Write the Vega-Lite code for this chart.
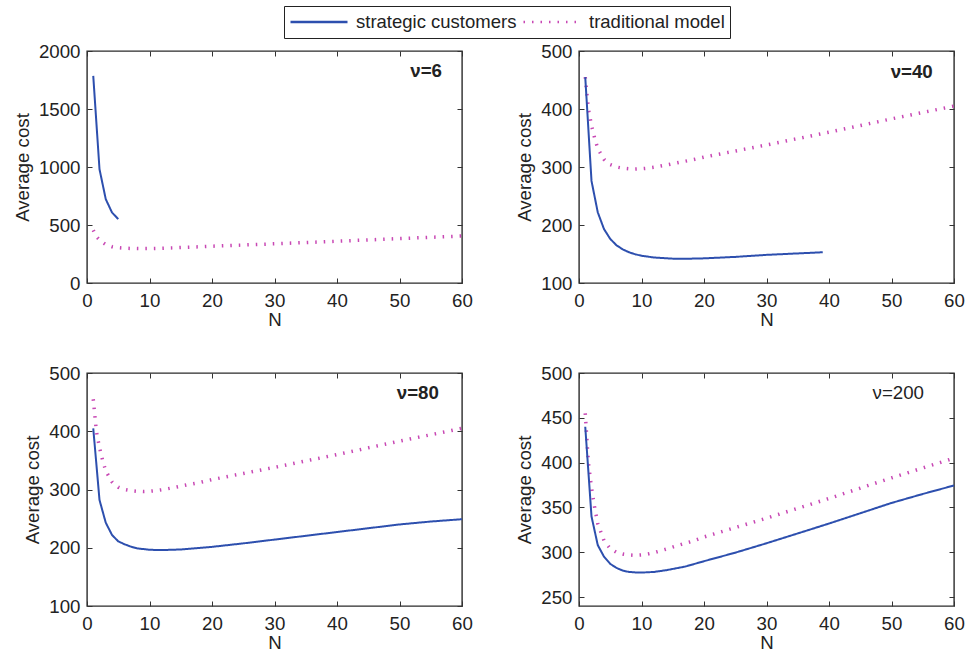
{
  "$schema": "https://vega.github.io/schema/vega-lite/v6.json",
  "padding": {"left": 12, "top": 5, "right": 5, "bottom": 0},
  "autosize": {"type": "pad"},
  "background": "white",
  "bounds": "flush",
  "config": {
    "font": "Liberation Sans",
    "view": {"stroke": "#2b2b2b", "strokeWidth": 1.4},
    "axis": {
      "grid": false,
      "domain": false,
      "labelFlush": false,
      "labelOverlap": false,
      "tickSize": -5,
      "tickColor": "#333333",
      "tickWidth": 1,
      "labelFont": "Liberation Sans",
      "labelFontSize": 18.7,
      "labelColor": "#222222",
      "titleFont": "Liberation Sans",
      "titleFontSize": 18.7,
      "titleFontWeight": "normal",
      "titleColor": "#222222",
      "titlePadding": 6
    },
    "axisX": {"labelPadding": 13, "titlePadding": 1},
    "axisY": {"labelPadding": 12},
    "legend": {"labelFont": "Liberation Sans", "labelFontSize": 18.5, "labelColor": "#222222", "labelLimit": 400}
  },
  "datasets": {
    "trad": [
      {"N": 1, "cost": 455, "series": "traditional model"},
      {"N": 1.5, "cost": 400, "series": "traditional model"},
      {"N": 2, "cost": 372, "series": "traditional model"},
      {"N": 2.5, "cost": 350, "series": "traditional model"},
      {"N": 3, "cost": 332, "series": "traditional model"},
      {"N": 4, "cost": 313, "series": "traditional model"},
      {"N": 5, "cost": 304, "series": "traditional model"},
      {"N": 6, "cost": 300, "series": "traditional model"},
      {"N": 7, "cost": 298, "series": "traditional model"},
      {"N": 8, "cost": 297, "series": "traditional model"},
      {"N": 9, "cost": 296.5, "series": "traditional model"},
      {"N": 10, "cost": 297, "series": "traditional model"},
      {"N": 11, "cost": 298, "series": "traditional model"},
      {"N": 12, "cost": 299.5, "series": "traditional model"},
      {"N": 14, "cost": 303.5, "series": "traditional model"},
      {"N": 16, "cost": 308, "series": "traditional model"},
      {"N": 18, "cost": 312, "series": "traditional model"},
      {"N": 20, "cost": 317, "series": "traditional model"},
      {"N": 25, "cost": 327.5, "series": "traditional model"},
      {"N": 30, "cost": 338, "series": "traditional model"},
      {"N": 35, "cost": 349, "series": "traditional model"},
      {"N": 40, "cost": 360, "series": "traditional model"},
      {"N": 45, "cost": 371.5, "series": "traditional model"},
      {"N": 50, "cost": 383, "series": "traditional model"},
      {"N": 55, "cost": 394, "series": "traditional model"},
      {"N": 60, "cost": 405, "series": "traditional model"}
    ],
    "strat": [
      {"panel": "v6", "N": 1, "cost": 1785, "series": "strategic customers"},
      {"panel": "v6", "N": 2, "cost": 981, "series": "strategic customers"},
      {"panel": "v6", "N": 3, "cost": 723, "series": "strategic customers"},
      {"panel": "v6", "N": 4, "cost": 608, "series": "strategic customers"},
      {"panel": "v6", "N": 5, "cost": 551, "series": "strategic customers"},
      {"panel": "v40", "N": 1, "cost": 455, "series": "strategic customers"},
      {"panel": "v40", "N": 2, "cost": 276, "series": "strategic customers"},
      {"panel": "v40", "N": 3, "cost": 222, "series": "strategic customers"},
      {"panel": "v40", "N": 4, "cost": 193, "series": "strategic customers"},
      {"panel": "v40", "N": 5, "cost": 176, "series": "strategic customers"},
      {"panel": "v40", "N": 6, "cost": 165, "series": "strategic customers"},
      {"panel": "v40", "N": 7, "cost": 158, "series": "strategic customers"},
      {"panel": "v40", "N": 8, "cost": 153, "series": "strategic customers"},
      {"panel": "v40", "N": 9, "cost": 149.5, "series": "strategic customers"},
      {"panel": "v40", "N": 10, "cost": 147, "series": "strategic customers"},
      {"panel": "v40", "N": 12, "cost": 144, "series": "strategic customers"},
      {"panel": "v40", "N": 15, "cost": 142, "series": "strategic customers"},
      {"panel": "v40", "N": 18, "cost": 142, "series": "strategic customers"},
      {"panel": "v40", "N": 20, "cost": 142.5, "series": "strategic customers"},
      {"panel": "v40", "N": 25, "cost": 145, "series": "strategic customers"},
      {"panel": "v40", "N": 30, "cost": 148.5, "series": "strategic customers"},
      {"panel": "v40", "N": 35, "cost": 151, "series": "strategic customers"},
      {"panel": "v40", "N": 39, "cost": 153, "series": "strategic customers"},
      {"panel": "v80", "N": 1, "cost": 405, "series": "strategic customers"},
      {"panel": "v80", "N": 2, "cost": 282, "series": "strategic customers"},
      {"panel": "v80", "N": 3, "cost": 243, "series": "strategic customers"},
      {"panel": "v80", "N": 4, "cost": 222, "series": "strategic customers"},
      {"panel": "v80", "N": 5, "cost": 211, "series": "strategic customers"},
      {"panel": "v80", "N": 6, "cost": 206, "series": "strategic customers"},
      {"panel": "v80", "N": 7, "cost": 202, "series": "strategic customers"},
      {"panel": "v80", "N": 8, "cost": 199, "series": "strategic customers"},
      {"panel": "v80", "N": 10, "cost": 196.5, "series": "strategic customers"},
      {"panel": "v80", "N": 12, "cost": 196, "series": "strategic customers"},
      {"panel": "v80", "N": 15, "cost": 197, "series": "strategic customers"},
      {"panel": "v80", "N": 20, "cost": 201.5, "series": "strategic customers"},
      {"panel": "v80", "N": 25, "cost": 207.5, "series": "strategic customers"},
      {"panel": "v80", "N": 30, "cost": 214, "series": "strategic customers"},
      {"panel": "v80", "N": 35, "cost": 220.5, "series": "strategic customers"},
      {"panel": "v80", "N": 40, "cost": 227, "series": "strategic customers"},
      {"panel": "v80", "N": 45, "cost": 233.5, "series": "strategic customers"},
      {"panel": "v80", "N": 50, "cost": 240, "series": "strategic customers"},
      {"panel": "v80", "N": 55, "cost": 245, "series": "strategic customers"},
      {"panel": "v80", "N": 60, "cost": 249, "series": "strategic customers"},
      {"panel": "v200", "N": 1, "cost": 440, "series": "strategic customers"},
      {"panel": "v200", "N": 2, "cost": 340, "series": "strategic customers"},
      {"panel": "v200", "N": 3, "cost": 308, "series": "strategic customers"},
      {"panel": "v200", "N": 4, "cost": 295, "series": "strategic customers"},
      {"panel": "v200", "N": 5, "cost": 287, "series": "strategic customers"},
      {"panel": "v200", "N": 6, "cost": 282.5, "series": "strategic customers"},
      {"panel": "v200", "N": 7, "cost": 279.5, "series": "strategic customers"},
      {"panel": "v200", "N": 8, "cost": 278, "series": "strategic customers"},
      {"panel": "v200", "N": 9, "cost": 277.5, "series": "strategic customers"},
      {"panel": "v200", "N": 10, "cost": 277.3, "series": "strategic customers"},
      {"panel": "v200", "N": 12, "cost": 278, "series": "strategic customers"},
      {"panel": "v200", "N": 14, "cost": 280, "series": "strategic customers"},
      {"panel": "v200", "N": 17, "cost": 284, "series": "strategic customers"},
      {"panel": "v200", "N": 20, "cost": 290, "series": "strategic customers"},
      {"panel": "v200", "N": 25, "cost": 299.5, "series": "strategic customers"},
      {"panel": "v200", "N": 30, "cost": 310, "series": "strategic customers"},
      {"panel": "v200", "N": 35, "cost": 321, "series": "strategic customers"},
      {"panel": "v200", "N": 40, "cost": 332, "series": "strategic customers"},
      {"panel": "v200", "N": 45, "cost": 343.5, "series": "strategic customers"},
      {"panel": "v200", "N": 50, "cost": 355, "series": "strategic customers"},
      {"panel": "v200", "N": 55, "cost": 365, "series": "strategic customers"},
      {"panel": "v200", "N": 60, "cost": 374.5, "series": "strategic customers"}
    ],
    "labels": [
      {"panel": "v6", "N": 56.8, "cost": 1828, "label": "ν=6"},
      {"panel": "v40", "N": 56.6, "cost": 464, "label": "ν=40"},
      {"panel": "v80", "N": 56.3, "cost": 466, "label": "ν=80"},
      {"panel": "v200", "N": 55.2, "cost": 477.5, "label": "ν=200"}
    ]
  },
  "columns": 2,
  "spacing": {"row": 90, "column": 117},
  "concat": [
    {
      "width": 375, "height": 232,
      "resolve": {"axis": {"x": "independent", "y": "independent"}},
      "layer": [
        {
          "data": {"name": "trad"},
          "mark": {"type": "line", "strokeWidth": 3.5, "strokeCap": "butt"},
          "encoding": {
            "x": {"field": "N", "type": "quantitative", "scale": {"domain": [0, 60]}, "axis": {"orient": "bottom", "values": [0,10,20,30,40,50,60], "title": "N"}},
            "y": {"field": "cost", "type": "quantitative", "scale": {"domain": [0, 2000]}, "axis": {"orient": "left", "values": [0,500,1000,1500,2000], "format": "d", "title": "Average cost"}},
            "color": {"field": "series", "type": "nominal", "scale": {"domain": ["strategic customers", "traditional model"], "range": ["#2d4fae", "#c848b4"]}, "legend": {"orient": "none", "legendX": 197, "legendY": -45, "direction": "horizontal", "title": null, "strokeColor": "#222222", "fillColor": "white", "padding": 5, "symbolType": "stroke", "symbolSize": 3249, "symbolStrokeWidth": 2.5, "labelOffset": 7, "columnPadding": 5, "clipHeight": 22, "labelLimit": 400}},
            "strokeDash": {"field": "series", "type": "nominal", "scale": {"domain": ["strategic customers", "traditional model"], "range": [[1, 0], [1.5, 7]]}, "legend": {"orient": "none", "legendX": 197, "legendY": -45, "direction": "horizontal", "title": null}}
          }
        },
        {
          "data": {"name": "strat"},
          "transform": [{"filter": "datum.panel === 'v6'"}],
          "mark": {"type": "line", "strokeWidth": 2},
          "encoding": {
            "x": {"field": "N", "type": "quantitative", "axis": {"orient": "top", "values": [0,10,20,30,40,50,60], "labels": false, "title": null}},
            "y": {"field": "cost", "type": "quantitative", "axis": {"orient": "right", "values": [0,500,1000,1500,2000], "labels": false, "title": null}},
            "color": {"field": "series", "type": "nominal"},
            "strokeDash": {"field": "series", "type": "nominal"}
          }
        },
        {
          "data": {"name": "labels"},
          "transform": [{"filter": "datum.panel === 'v6'"}],
          "mark": {"type": "text", "align": "right", "baseline": "middle", "fontSize": 18.7, "fontWeight": "bold", "color": "#222222"},
          "encoding": {
            "x": {"field": "N", "type": "quantitative", "axis": null},
            "y": {"field": "cost", "type": "quantitative", "axis": null},
            "text": {"field": "label"}
          }
        }
      ]
    },
    {
      "width": 375, "height": 232,
      "resolve": {"axis": {"x": "independent", "y": "independent"}},
      "layer": [
        {
          "data": {"name": "trad"},
          "mark": {"type": "line", "strokeWidth": 3.5, "strokeCap": "butt"},
          "encoding": {
            "x": {"field": "N", "type": "quantitative", "scale": {"domain": [0, 60]}, "axis": {"orient": "bottom", "values": [0,10,20,30,40,50,60], "title": "N"}},
            "y": {"field": "cost", "type": "quantitative", "scale": {"domain": [100, 500]}, "axis": {"orient": "left", "values": [100,200,300,400,500], "title": "Average cost"}},
            "color": {"field": "series", "type": "nominal"},
            "strokeDash": {"field": "series", "type": "nominal"}
          }
        },
        {
          "data": {"name": "strat"},
          "transform": [{"filter": "datum.panel === 'v40'"}],
          "mark": {"type": "line", "strokeWidth": 2},
          "encoding": {
            "x": {"field": "N", "type": "quantitative", "axis": {"orient": "top", "values": [0,10,20,30,40,50,60], "labels": false, "title": null}},
            "y": {"field": "cost", "type": "quantitative", "axis": {"orient": "right", "values": [100,200,300,400,500], "labels": false, "title": null}},
            "color": {"field": "series", "type": "nominal"},
            "strokeDash": {"field": "series", "type": "nominal"}
          }
        },
        {
          "data": {"name": "labels"},
          "transform": [{"filter": "datum.panel === 'v40'"}],
          "mark": {"type": "text", "align": "right", "baseline": "middle", "fontSize": 18.7, "fontWeight": "bold", "color": "#222222"},
          "encoding": {
            "x": {"field": "N", "type": "quantitative", "axis": null},
            "y": {"field": "cost", "type": "quantitative", "axis": null},
            "text": {"field": "label"}
          }
        }
      ]
    },
    {
      "width": 375, "height": 233,
      "resolve": {"axis": {"x": "independent", "y": "independent"}},
      "layer": [
        {
          "data": {"name": "trad"},
          "mark": {"type": "line", "strokeWidth": 3.5, "strokeCap": "butt"},
          "encoding": {
            "x": {"field": "N", "type": "quantitative", "scale": {"domain": [0, 60]}, "axis": {"orient": "bottom", "values": [0,10,20,30,40,50,60], "title": "N"}},
            "y": {"field": "cost", "type": "quantitative", "scale": {"domain": [100, 500]}, "axis": {"orient": "left", "values": [100,200,300,400,500], "title": "Average cost"}},
            "color": {"field": "series", "type": "nominal"},
            "strokeDash": {"field": "series", "type": "nominal"}
          }
        },
        {
          "data": {"name": "strat"},
          "transform": [{"filter": "datum.panel === 'v80'"}],
          "mark": {"type": "line", "strokeWidth": 2},
          "encoding": {
            "x": {"field": "N", "type": "quantitative", "axis": {"orient": "top", "values": [0,10,20,30,40,50,60], "labels": false, "title": null}},
            "y": {"field": "cost", "type": "quantitative", "axis": {"orient": "right", "values": [100,200,300,400,500], "labels": false, "title": null}},
            "color": {"field": "series", "type": "nominal"},
            "strokeDash": {"field": "series", "type": "nominal"}
          }
        },
        {
          "data": {"name": "labels"},
          "transform": [{"filter": "datum.panel === 'v80'"}],
          "mark": {"type": "text", "align": "right", "baseline": "middle", "fontSize": 18.7, "fontWeight": "bold", "color": "#222222"},
          "encoding": {
            "x": {"field": "N", "type": "quantitative", "axis": null},
            "y": {"field": "cost", "type": "quantitative", "axis": null},
            "text": {"field": "label"}
          }
        }
      ]
    },
    {
      "width": 375, "height": 233,
      "resolve": {"axis": {"x": "independent", "y": "independent"}},
      "layer": [
        {
          "data": {"name": "trad"},
          "mark": {"type": "line", "strokeWidth": 3.5, "strokeCap": "butt"},
          "encoding": {
            "x": {"field": "N", "type": "quantitative", "scale": {"domain": [0, 60]}, "axis": {"orient": "bottom", "values": [0,10,20,30,40,50,60], "title": "N"}},
            "y": {"field": "cost", "type": "quantitative", "scale": {"domain": [250, 500]}, "axis": {"orient": "left", "values": [250,300,350,400,450,500], "title": "Average cost"}},
            "color": {"field": "series", "type": "nominal"},
            "strokeDash": {"field": "series", "type": "nominal"}
          }
        },
        {
          "data": {"name": "strat"},
          "transform": [{"filter": "datum.panel === 'v200'"}],
          "mark": {"type": "line", "strokeWidth": 2},
          "encoding": {
            "x": {"field": "N", "type": "quantitative", "axis": {"orient": "top", "values": [0,10,20,30,40,50,60], "labels": false, "title": null}},
            "y": {"field": "cost", "type": "quantitative", "axis": {"orient": "right", "values": [250,300,350,400,450,500], "labels": false, "title": null}},
            "color": {"field": "series", "type": "nominal"},
            "strokeDash": {"field": "series", "type": "nominal"}
          }
        },
        {
          "data": {"name": "labels"},
          "transform": [{"filter": "datum.panel === 'v200'"}],
          "mark": {"type": "text", "align": "right", "baseline": "middle", "fontSize": 18.7, "fontWeight": "normal", "color": "#222222"},
          "encoding": {
            "x": {"field": "N", "type": "quantitative", "axis": null},
            "y": {"field": "cost", "type": "quantitative", "axis": null},
            "text": {"field": "label"}
          }
        }
      ]
    }
  ]
}
